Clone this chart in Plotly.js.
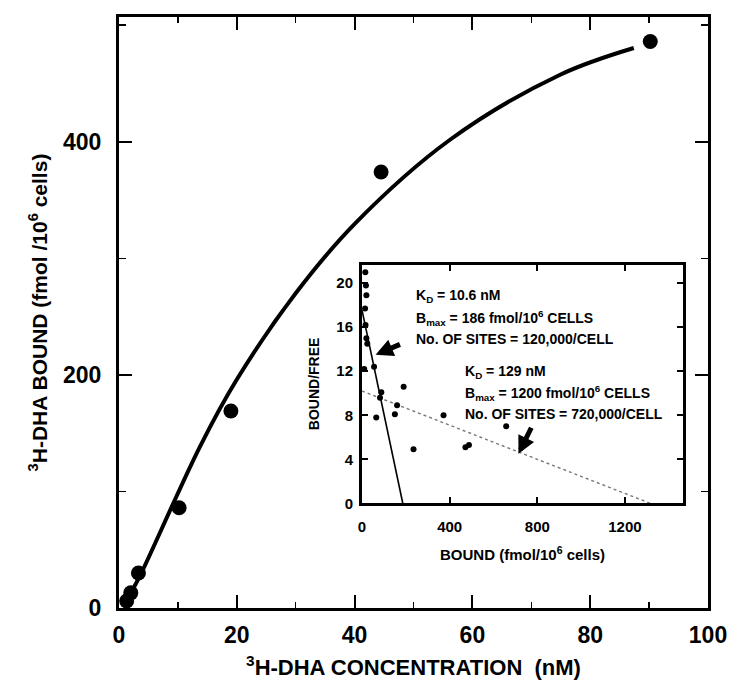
<!DOCTYPE html>
<html>
<head>
<meta charset="utf-8">
<script src="https://cdn.plot.ly/plotly-3.0.1.min.js"></script>
<style>
  html, body { margin: 0; padding: 0; background: #fff; }
  #chart { width: 734px; height: 680px; }
</style>
</head>
<body>
<div id="chart"></div>
<script>
// Saturation binding of 3H-DHA (main panel)
const concentration = [1.3, 2.0, 3.3, 10.2, 19.0, 44.5, 90.2];
const boundMain = [6, 13, 30, 86, 169, 374, 486];

// Fitted saturation curve, sampled along its path
const fitConc = [2.0, 3.6, 13.75, 20, 30, 40.1, 56.2, 74.9, 87.4];
const fitBound = [13, 28, 138.5, 196, 270, 330, 401.7, 457.5, 480.4];

// Scatchard transform (inset): bound vs bound/free
const scBound = [15, 18, 20, 14, 16, 20, 24, 10, 55, 88, 82, 65, 150, 160, 190, 235, 372, 472, 488, 658];
const scRatio = [21.0, 19.8, 18.9, 17.7, 16.2, 15.0, 14.5, 12.2, 12.4, 10.1, 9.6, 7.8, 8.1, 8.9, 10.6, 4.9, 8.0, 5.1, 5.3, 7.0];

// Two-site Scatchard lines (end points)
const highSiteBound = [0, 186];
const highSiteRatio = [17.55, 0];
const lowSiteBound = [0, 1315];
const lowSiteRatio = [10.2, 0];

// Axis tick values
const mainXTicks = [0, 20, 40, 60, 80, 100];
const mainYTicks = [0, 200, 400];
const insetXTicks = [0, 400, 800, 1200];
const insetYTicks = [0, 4, 8, 12, 16, 20];

const FONT = 'Liberation Sans, Arial, Helvetica, sans-serif';
const bold = (size) => ({ family: FONT, size: size, color: '#000', weight: 'bold' });
const plain = (size) => ({ family: FONT, size: size, color: '#000' });
const boldLabels = (vals) => vals.map(v => '<b>' + v + '</b>');

const traces = [
  {
    x: fitConc, y: fitBound, type: 'scatter', mode: 'lines',
    line: { color: '#000', width: 4, shape: 'spline', smoothing: 1.0 },
    xaxis: 'x', yaxis: 'y', hoverinfo: 'skip'
  },
  {
    x: concentration, y: boundMain, type: 'scatter', mode: 'markers',
    marker: { color: '#000', size: 15 },
    cliponaxis: false, xaxis: 'x', yaxis: 'y'
  },
  {
    x: highSiteBound, y: highSiteRatio, type: 'scatter', mode: 'lines',
    line: { color: '#000', width: 1.6 },
    xaxis: 'x2', yaxis: 'y2', hoverinfo: 'skip'
  },
  {
    x: lowSiteBound, y: lowSiteRatio, type: 'scatter', mode: 'lines',
    line: { color: '#777', width: 1.4, dash: 'dot' },
    xaxis: 'x2', yaxis: 'y2', hoverinfo: 'skip'
  },
  {
    x: scBound, y: scRatio, type: 'scatter', mode: 'markers',
    marker: { color: '#000', size: 6 },
    cliponaxis: false, xaxis: 'x2', yaxis: 'y2'
  }
];

// Parameter labels and pointer arrows in the inset
const labelStyle = { xref: 'x2', yref: 'y2', xanchor: 'left', yanchor: 'middle',
                     showarrow: false, font: bold(14) };
const annotations = [
  Object.assign({ x: 235, y: 18.8, text: 'K<sub>D</sub> = 10.6 nM' }, labelStyle),
  Object.assign({ x: 235, y: 16.8, text: 'B<sub>max</sub> = 186 fmol/10<sup>6</sup> CELLS' }, labelStyle),
  Object.assign({ x: 235, y: 14.9, text: 'No. OF SITES = 120,000/CELL' }, labelStyle),
  Object.assign({ x: 463, y: 11.9, text: 'K<sub>D</sub> = 129 nM' }, labelStyle),
  Object.assign({ x: 463, y: 10.05, text: 'B<sub>max</sub> = 1200 fmol/10<sup>6</sup> CELLS' }, labelStyle),
  Object.assign({ x: 463, y: 8.1, text: 'No. OF SITES = 720,000/CELL' }, labelStyle),
  {
    xref: 'x2', yref: 'y2', axref: 'x2', ayref: 'y2',
    x: 62, y: 13.5, ax: 180, ay: 14.5, text: '',
    showarrow: true, arrowhead: 2, arrowsize: 0.7, arrowwidth: 5, arrowcolor: '#000'
  },
  {
    xref: 'x2', yref: 'y2', axref: 'x2', ayref: 'y2',
    x: 714, y: 4.5, ax: 776, ay: 7.0, text: '',
    showarrow: true, arrowhead: 2, arrowsize: 0.7, arrowwidth: 5, arrowcolor: '#000'
  }
];

const layout = {
  width: 734, height: 680,
  margin: { l: 119, r: 26, t: 17, b: 72 },
  paper_bgcolor: '#fff', plot_bgcolor: '#fff',
  showlegend: false,
  font: { family: FONT, color: '#000' },
  xaxis: {
    domain: [0, 1], range: [0, 100], anchor: 'y',
    tickvals: mainXTicks, ticktext: boldLabels(mainXTicks),
    ticks: 'inside', ticklen: 13, tickwidth: 2, tickcolor: '#000',
    minor: { dtick: 10, tick0: 0, ticks: 'inside', ticklen: 6, tickwidth: 1.5, tickcolor: '#000' },
    showline: true, linewidth: 3, linecolor: '#000', mirror: 'ticks',
    showgrid: false, zeroline: false,
    tickfont: plain(23), ticklabelstandoff: 4,
    title: { text: '<sup>3</sup>H-DHA CONCENTRATION  (nM)', font: bold(22), standoff: 16 }
  },
  yaxis: {
    domain: [0, 1], range: [0, 507], anchor: 'x',
    tickvals: mainYTicks, ticktext: boldLabels(mainYTicks),
    ticks: 'inside', ticklen: 13, tickwidth: 2, tickcolor: '#000',
    minor: { dtick: 100, tick0: 0, ticks: 'inside', ticklen: 7, tickwidth: 1.5, tickcolor: '#000' },
    showline: true, linewidth: 3, linecolor: '#000', mirror: 'ticks',
    showgrid: false, zeroline: false,
    tickfont: plain(23), ticklabelstandoff: 10,
    title: { text: '<sup>3</sup>H-DHA BOUND (fmol /10<sup>6</sup> cells)', font: bold(21), standoff: 10 }
  },
  xaxis2: {
    domain: [0.4126, 0.9576], range: [0, 1465], anchor: 'y2',
    tickvals: insetXTicks, ticktext: boldLabels(insetXTicks),
    ticks: 'inside', ticklen: 6, tickwidth: 2, tickcolor: '#000',
    showline: true, linewidth: 3, linecolor: '#000', mirror: 'ticks',
    showgrid: false, zeroline: false,
    tickfont: plain(15), ticklabelstandoff: 8,
    title: { text: 'BOUND (fmol/10<sup>6</sup> cells)', font: bold(15), standoff: 16 }
  },
  yaxis2: {
    domain: [0.1772, 0.5812], range: [0, 21.7], anchor: 'x2',
    tickvals: insetYTicks, ticktext: boldLabels(insetYTicks),
    ticks: 'inside', ticklen: 6, tickwidth: 2, tickcolor: '#000',
    showline: true, linewidth: 3, linecolor: '#000', mirror: 'ticks',
    showgrid: false, zeroline: false,
    tickfont: plain(15), ticklabelstandoff: 3,
    title: { text: 'BOUND/FREE', font: bold(14), standoff: 14 }
  },
  annotations: annotations
};

Plotly.newPlot('chart', traces, layout, { displayModeBar: false, staticPlot: true });
</script>
</body>
</html>
